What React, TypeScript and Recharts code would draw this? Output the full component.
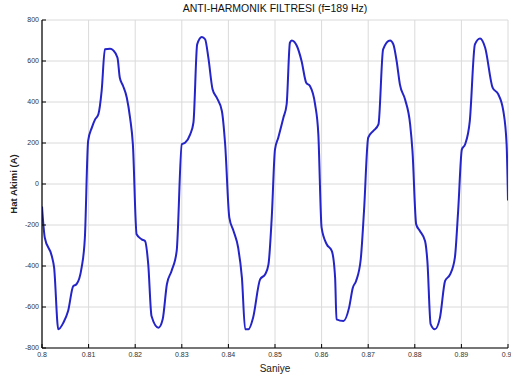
import React from 'react';
import { LineChart, Line, XAxis, YAxis, CartesianGrid } from 'recharts';

const TITLE = 'ANTI-HARMONIK FILTRESI (f=189 Hz)';
const X_LABEL = 'Saniye';
const Y_LABEL = 'Hat Akimi (A)';

const xTicks = [0.8, 0.81, 0.82, 0.83, 0.84, 0.85, 0.86, 0.87, 0.88, 0.89, 0.9];
const yTicks = [-800, -600, -400, -200, 0, 200, 400, 600, 800];

const time = [
  0.8, 0.8006, 0.8021, 0.8026, 0.8035, 0.8046, 0.8056, 0.8067, 0.8074, 0.8085,
  0.8092, 0.8099, 0.8107, 0.8114, 0.8121, 0.8128, 0.8135, 0.8146, 0.8153, 0.8162,
  0.8167, 0.8174, 0.8182, 0.8189, 0.8195, 0.8203, 0.8214, 0.8221, 0.8228, 0.8235,
  0.825, 0.8259, 0.8268, 0.8278, 0.8289, 0.83, 0.8307, 0.8318, 0.8325, 0.8333,
  0.8343, 0.835, 0.8357, 0.8366, 0.8375, 0.8386, 0.8393, 0.8402, 0.8411, 0.8421,
  0.8429, 0.8436, 0.8443, 0.8453, 0.8468, 0.8479, 0.8486, 0.8493, 0.85, 0.8507,
  0.8518, 0.8525, 0.8532, 0.8536, 0.8547, 0.8557, 0.8567, 0.8575, 0.8586, 0.8593,
  0.86, 0.8611, 0.8622, 0.8629, 0.8632, 0.8647, 0.8659, 0.8667, 0.8674, 0.8684,
  0.8691, 0.87, 0.8711, 0.8722, 0.8732, 0.8747, 0.8754, 0.8761, 0.8768, 0.8779,
  0.879, 0.8795, 0.8803, 0.8811, 0.8822, 0.8827, 0.8834, 0.8843, 0.8854, 0.8865,
  0.8876, 0.8886, 0.8893, 0.8901, 0.8908, 0.8918, 0.8929, 0.894, 0.8951, 0.8967,
  0.8979, 0.899, 0.8997, 0.9,
];

const current = [
  -110, -262, -351, -408, -709, -676, -620, -498, -489, -408,
  -262, 210, 275, 315, 340, 454, 657, 660, 652, 616,
  518, 478, 421, 323, 194, -245, -270, -278, -392, -644,
  -701, -660, -489, -424, -327, 194, 201, 242, 300, 681,
  717, 706, 616, 462, 421, 356, 194, -164, -229, -311,
  -457, -709, -709, -652, -465, -440, -392, -164, 169, 226,
  323, 389, 689, 700, 673, 600, 494, 478, 389, 242,
  -213, -294, -327, -457, -660, -668, -603, -506, -473, -367,
  -132, 226, 259, 291, 657, 700, 681, 600, 486, 413,
  291, 161, -197, -229, -278, -376, -684, -709, -652, -473,
  -440, -359, -132, 169, 194, 307, 681, 710, 665, 470,
  438, 356, 194, -80,
];

const data = time.map((t, i) => ({ t, v: current[i] }));

const fmtX = (v: number) => String(Math.round(v * 100) / 100);
const tickStyle = { fontSize: 7, fill: '#333', fontFamily: 'Liberation Sans, Arial, sans-serif' };
const blank = () => '';

export default function App() {
  return (
    <div style={{ position: 'absolute', left: 0, top: 0, width: 511, height: 378, background: '#fff', fontFamily: 'Liberation Sans, Arial, sans-serif' }}>
      <div style={{ position: 'absolute', left: 42, width: 466, top: 2, textAlign: 'center', fontSize: 10.5, color: '#111', lineHeight: '12px' }}>
        {TITLE}
      </div>
      <LineChart width={511} height={378} data={data} margin={{ top: 20, right: 3, bottom: 0, left: 0 }}>
        <CartesianGrid stroke="#dadada" strokeWidth={1} />
        <XAxis
          dataKey="t"
          type="number"
          domain={[0.8, 0.9]}
          ticks={xTicks}
          tickFormatter={fmtX}
          tickSize={-4}
          tickMargin={8}
          tick={tickStyle}
          height={30}
          axisLine={{ stroke: '#000', strokeWidth: 1.2 }}
          tickLine={{ stroke: '#000' }}
          allowDataOverflow
          label={{ value: X_LABEL, position: 'insideBottom', offset: 6, fontSize: 10, fill: '#222' }}
        />
        <XAxis
          xAxisId="top"
          orientation="top"
          type="number"
          domain={[0.8, 0.9]}
          ticks={xTicks}
          tickFormatter={blank}
          tickSize={-4}
          height={0}
          axisLine={{ stroke: '#000', strokeWidth: 1.2 }}
          tickLine={{ stroke: '#000' }}
        />
        <YAxis
          type="number"
          domain={[-800, 800]}
          ticks={yTicks}
          tickSize={-4}
          tickMargin={7}
          tick={tickStyle}
          width={42}
          axisLine={{ stroke: '#000', strokeWidth: 1.2 }}
          tickLine={{ stroke: '#000' }}
          allowDataOverflow
          label={{ value: Y_LABEL, angle: -90, position: 'insideLeft', offset: 14, fontSize: 9.5, fontWeight: 'bold', fill: '#222', style: { textAnchor: 'middle' } }}
        />
        <YAxis
          yAxisId="right"
          orientation="right"
          type="number"
          domain={[-800, 800]}
          ticks={yTicks}
          tickFormatter={blank}
          tickSize={-4}
          width={0}
          axisLine={{ stroke: '#000', strokeWidth: 1.2 }}
          tickLine={{ stroke: '#000' }}
        />
        <Line
          type="monotone"
          dataKey="v"
          stroke="#2424c8"
          strokeWidth={2}
          dot={false}
          isAnimationActive={false}
        />
      </LineChart>
    </div>
  );
}
